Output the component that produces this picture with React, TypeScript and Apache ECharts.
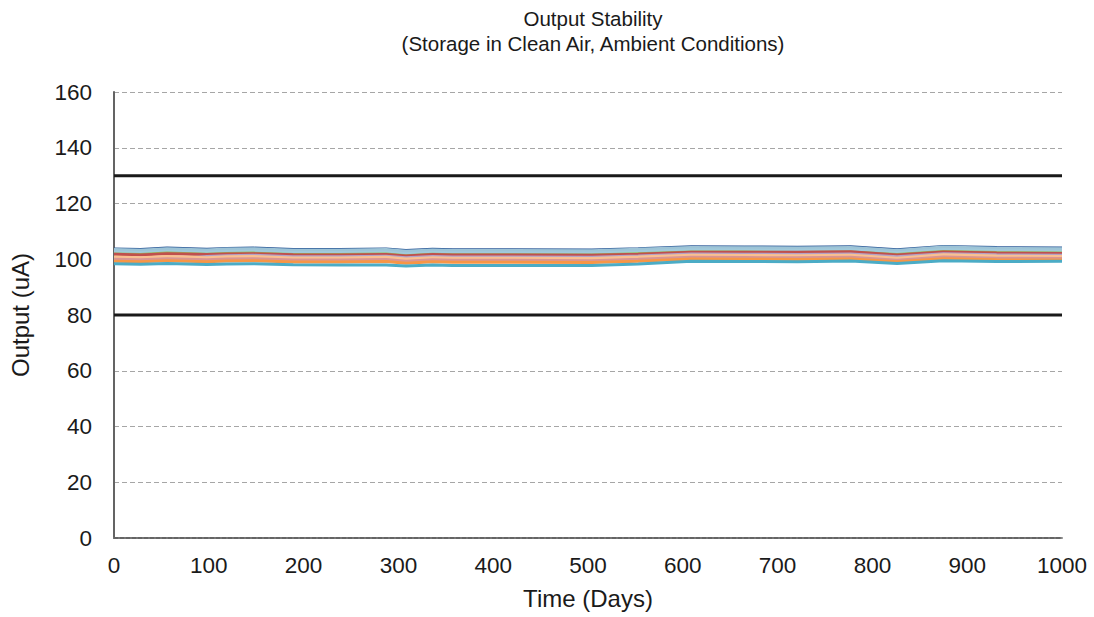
import React, { useEffect, useRef } from "react";
import * as echarts from "echarts";

const days = [0, 28, 56, 98, 119, 147, 189, 238, 287, 308, 336, 357, 420, 504, 553, 609, 665, 721, 777, 826, 875, 931, 1000];

const s1 = [103.7, 103.5, 104.0, 103.6, 103.9, 104.0, 103.5, 103.5, 103.7, 103.1, 103.6, 103.4, 103.4, 103.3, 103.8, 104.5, 104.4, 104.3, 104.5, 103.4, 104.6, 104.2, 104.0];
const s2 = [103.1, 102.9, 103.4, 103.0, 103.3, 103.4, 102.9, 102.9, 103.1, 102.5, 103.0, 102.8, 102.8, 102.7, 103.2, 103.9, 103.8, 103.7, 103.9, 102.8, 104.0, 103.6, 103.4];
const s3 = [102.6, 102.4, 102.8, 102.5, 102.8, 102.9, 102.4, 102.4, 102.6, 102.0, 102.5, 102.3, 102.3, 102.2, 102.7, 103.4, 103.3, 103.2, 103.4, 102.3, 103.5, 103.1, 102.9];
const s4 = [101.9, 101.7, 102.2, 101.8, 102.1, 102.2, 101.7, 101.7, 101.9, 101.3, 101.8, 101.6, 101.6, 101.5, 102.0, 102.6, 102.6, 102.4, 102.6, 101.7, 102.8, 102.4, 102.2];
const s5 = [101.8, 101.5, 102.0, 101.7, 101.9, 102.0, 101.6, 101.5, 101.7, 101.2, 101.7, 101.5, 101.5, 101.4, 101.8, 102.5, 102.5, 102.5, 102.7, 101.5, 102.6, 102.2, 102.1];
const s6 = [99.8, 99.6, 99.9, 101.0, 101.3, 101.4, 100.9, 100.9, 101.1, 100.5, 101.0, 100.8, 100.8, 100.7, 101.2, 101.9, 101.8, 101.7, 101.9, 100.9, 102.0, 101.6, 101.4];
const s7 = [100.6, 100.4, 100.8, 100.4, 100.7, 100.8, 100.3, 100.3, 100.5, 99.9, 100.4, 100.2, 100.2, 100.1, 100.6, 101.3, 101.2, 101.1, 101.3, 100.2, 101.4, 101.0, 100.8];
const s8 = [100.0, 99.8, 100.2, 99.8, 100.1, 100.2, 99.7, 99.7, 99.9, 99.3, 99.8, 99.6, 99.6, 99.5, 100.0, 100.7, 100.6, 100.5, 100.7, 99.6, 100.8, 100.4, 100.3];
const s9 = [99.3, 99.1, 99.5, 99.1, 99.4, 99.5, 99.0, 99.0, 99.2, 98.6, 99.1, 98.9, 98.9, 98.8, 99.3, 100.1, 100.0, 99.9, 100.1, 99.1, 100.2, 99.8, 99.7];
const s10 = [98.4, 98.2, 98.5, 98.1, 98.3, 98.4, 98.0, 97.9, 97.9, 97.6, 97.9, 97.8, 97.8, 97.8, 98.3, 99.3, 99.2, 99.1, 99.4, 98.5, 99.5, 99.2, 99.3];

const sensorSeries = [s1, s2, s3, s4, s5, s6, s7, s8, s9, s10];
const sensorColors = ["#2F5C9A", "#9DC3D6", "#A0CADB", "#9BBB59", "#C0504D", "#B3A2C7", "#FAC090", "#D99694", "#F79646", "#4BACC6"];
const sensorWidths = [3, 5, 3, 3, 3, 3, 4, 3, 3, 3];

const limitDays = [0, 1000];
const upperLimit = [130, 130];
const lowerLimit = [80, 80];

const FONT = "'Liberation Sans', Arial, sans-serif";

export default function App() {
  const ref = useRef<HTMLDivElement>(null);
  useEffect(() => {
    if (!ref.current) return;
    const chart = echarts.init(ref.current, null, { renderer: "svg" });
    const series: any[] = sensorSeries.map((vals, i) => ({
      name: "Sensor " + (i + 1),
      type: "line",
      data: days.map((d, j) => [d, vals[j]]),
      showSymbol: false,
      symbol: "none",
      lineStyle: { color: sensorColors[i], width: sensorWidths[i] },
      itemStyle: { color: sensorColors[i] },
      z: 3,
    }));
    series.push({
      name: "Upper",
      type: "line",
      data: limitDays.map((d, j) => [d, upperLimit[j]]),
      symbol: "none",
      lineStyle: { color: "#1A1A1A", width: 3 },
      z: 4,
    });
    series.push({
      name: "Lower",
      type: "line",
      data: limitDays.map((d, j) => [d, lowerLimit[j]]),
      symbol: "none",
      lineStyle: { color: "#1A1A1A", width: 3 },
      z: 4,
    });
    chart.setOption({
      animation: false,
      backgroundColor: "#fff",
      title: {
        text: "Output Stability\n(Storage in Clean Air, Ambient Conditions)",
        left: 588,
        top: 1,
        textAlign: "center",
        textStyle: { fontFamily: FONT, fontSize: 20.5, fontWeight: "normal", color: "#1a1a1a", lineHeight: 25 },
      },
      grid: { left: 113, right: 32, top: 92, bottom: 79, containLabel: false },
      xAxis: [
        {
          type: "value",
          min: 0,
          max: 1000,
          interval: 100,
          name: "Time (Days)",
          nameLocation: "middle",
          nameGap: 48,
          nameTextStyle: { fontFamily: FONT, fontSize: 24, color: "#1a1a1a" },
          axisLine: { show: true, lineStyle: { color: "#898989", width: 2 } },
          axisTick: { show: false },
          axisLabel: { fontFamily: FONT, fontSize: 22.5, color: "#1a1a1a", margin: 16, formatter: (v: number) => String(v) },
          splitLine: { show: false },
        },
        {
          type: "value",
          position: "top",
          min: 0,
          max: 1000,
          axisLine: { show: true, lineStyle: { color: "#595959", width: 1.5, type: [4, 2] } },
          axisTick: { show: false },
          axisLabel: { show: false },
          splitLine: { show: false },
        },
      ],
      yAxis: [
        {
          type: "value",
          min: 0,
          max: 160,
          interval: 20,
          name: "Output (uA)",
          nameLocation: "middle",
          nameGap: 82,
          nameTextStyle: { fontFamily: FONT, fontSize: 24, color: "#1a1a1a" },
          axisLine: { show: true, lineStyle: { color: "#898989", width: 2 } },
          axisTick: { show: false },
          axisLabel: { fontFamily: FONT, fontSize: 22.5, color: "#1a1a1a", margin: 22 },
          splitLine: { show: true, lineStyle: { color: "#A6A6A6", width: 1, type: [5, 3] } },
        },
        {
          type: "value",
          position: "right",
          min: 0,
          max: 160,
          axisLine: { show: true, lineStyle: { color: "#595959", width: 1.5 } },
          axisTick: { show: false },
          axisLabel: { show: false },
          splitLine: { show: false },
        },
      ],
      series,
    });
    return () => chart.dispose();
  }, []);
  return <div ref={ref} style={{ width: 1094, height: 617, position: "absolute", left: 0, top: 0 }} />;
}
